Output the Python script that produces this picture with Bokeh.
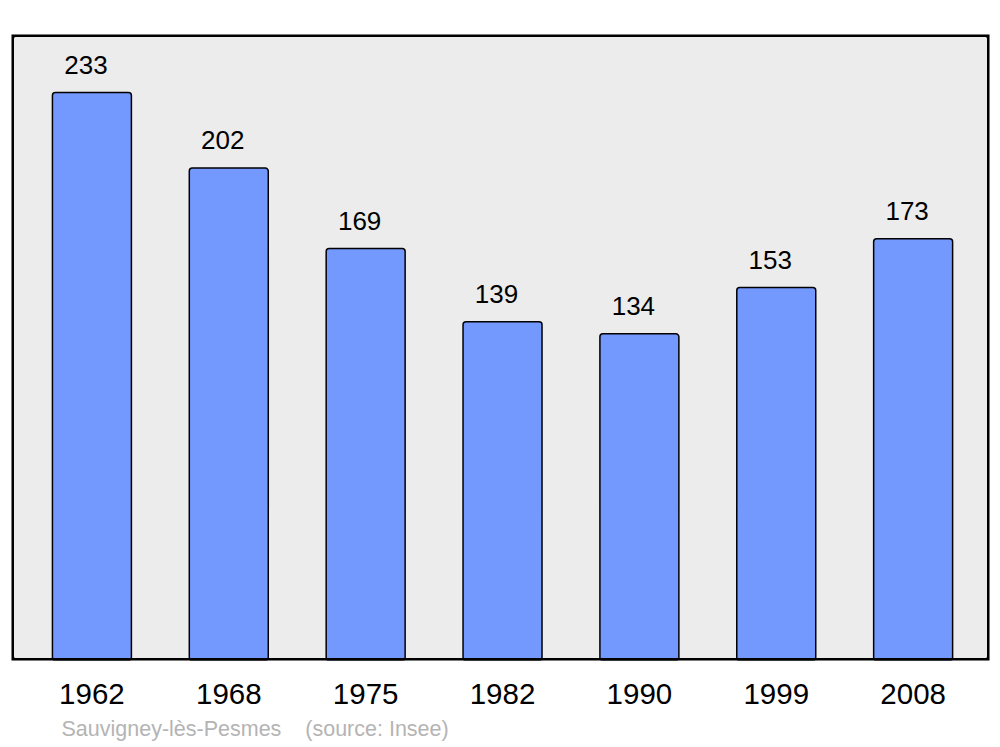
from bokeh.plotting import figure
from bokeh.models import Range1d, ColumnDataSource, LabelSet, FixedTicker, BoxAnnotation, Title
from bokeh.core.properties import value
from bokeh.embed import file_html
from bokeh.resources import INLINE

years = ["1962", "1968", "1975", "1982", "1990", "1999", "2008"]
population = [233, 202, 169, 139, 134, 153, 173]
footer_text = "Sauvigney-lès-Pesmes\u00a0\u00a0\u00a0\u00a0(source: Insee)"

idx = list(range(len(years)))
src = ColumnDataSource(dict(x=idx, top=population, label=[str(v) for v in population]))

FONT = "Liberation Sans"

p = figure(frame_width=978, frame_height=626,
           x_range=Range1d(-0.5876, 6.558), y_range=Range1d(0, 256.8),
           output_backend="svg", toolbar_location=None,
           min_border_left=11, min_border_right=3, min_border_top=34, min_border_bottom=0)
p.background_fill_color = "#ececec"
p.border_fill_color = "white"
p.outline_line_color = None
p.grid.visible = False
p.yaxis.visible = False

p.vbar(x="x", top="top", width=0.577, bottom=0, source=src,
       fill_color="#7399ff", line_color="black", line_width=1.5, border_radius=3)

labels = LabelSet(x="x", y="top", text="label", source=src, x_offset=-6, y_offset=28,
                  text_align="center", text_baseline="middle",
                  text_font=value(FONT), text_font_size=value("26px"), text_color="black")
p.add_layout(labels)

frame_box = BoxAnnotation(fill_alpha=0, line_color="black", line_alpha=1.0, line_width=5,
                          border_radius=4, level="overlay")
p.add_layout(frame_box)

xa = p.xaxis[0]
xa.ticker = FixedTicker(ticks=idx)
xa.major_label_overrides = {i: y for i, y in zip(idx, years)}
xa.major_tick_line_color = None
xa.minor_tick_line_color = None
xa.axis_line_color = None
xa.major_label_standoff = 17
xa.major_label_text_font = FONT
xa.major_label_text_font_size = "29.5px"
xa.major_label_text_color = "black"

footer = Title(text=footer_text, align="left", offset=50, standoff=17,
               text_font=FONT, text_font_size="21.5px", text_font_style="normal",
               text_color="#b4b4b4")
p.add_layout(footer, "below")

open("out.html", "w").write(file_html(p, INLINE))
